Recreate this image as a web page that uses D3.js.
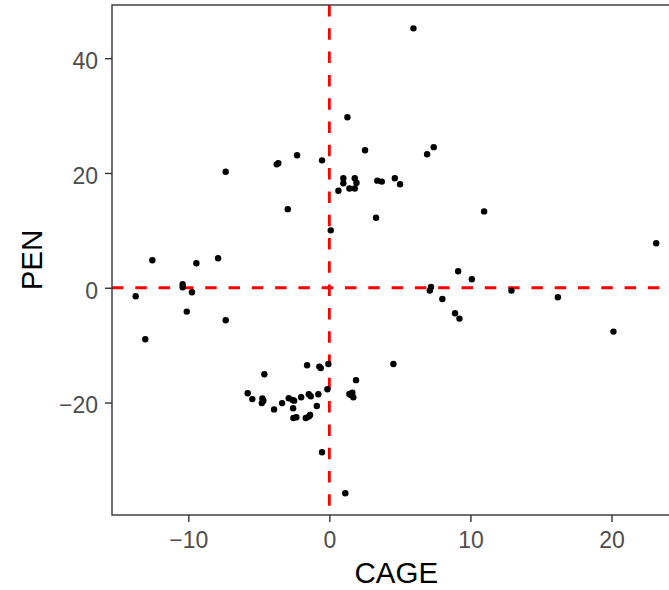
<!DOCTYPE html>
<html><head><meta charset="utf-8">
<script src="https://cdn.jsdelivr.net/npm/d3@7"></script>
<style>body{margin:0;background:#fff}svg{display:block}</style>
</head><body>
<script>
const cage = [1.28,2.53,-2.29,-0.52,-3.73,-3.62,-7.35,0.99,0.99,0.64,1.42,1.8,1.8,1.92,3.4,3.72,-2.95,3.31,0.1,-12.55,-7.89,-9.43,-10.4,-10.4,-9.74,-13.73,5.96,6.93,7.4,4.64,5.01,10.97,23.17,9.13,10.1,7.21,7.12,12.91,8.01,16.2,-10.11,-7.35,-13.05,-4.61,-1.58,-0.71,-0.61,-0.07,1.89,-5.79,-5.46,-4.75,-4.68,-4.79,-3.92,-3.35,-2.88,-2.6,-2.5,-2.57,-2.55,-2.34,-1.67,-1.46,-1.37,-2.0,-1.46,-1.32,-0.78,-0.89,-0.14,1.42,1.63,1.7,1.52,-0.52,1.13,8.91,9.22,20.14,4.54];
const pen = [29.7,23.95,23.08,22.2,21.5,21.7,20.2,19.08,18.2,16.9,17.3,17.3,19.08,18.3,18.66,18.5,13.7,12.2,10.0,4.8,5.14,4.27,0.6,0.09,-0.78,-1.48,45.2,23.26,24.5,19.08,18.03,13.3,7.75,2.87,1.48,0.14,-0.5,-0.5,-1.95,-1.66,-4.16,-5.66,-8.97,-15.07,-13.5,-13.74,-14.0,-13.3,-16.1,-18.38,-19.4,-19.3,-19.67,-20.1,-21.2,-20.1,-19.25,-19.55,-19.67,-21.0,-22.7,-22.56,-22.7,-22.45,-22.16,-19.08,-18.55,-18.9,-18.55,-20.6,-17.7,-18.5,-18.3,-19.1,-18.7,-28.66,-35.8,-4.45,-5.38,-7.64,-13.3];
const xTicks = [-10, 0, 10, 20];
const yTicks = [-20, 0, 20, 40];
const xDomain = [-15.41, 24.9];
const yDomain = [-39.6, 49.27];
const refX = 0, refY = 0;

const W = 669, H = 590;
const L = 112, R = 680.6, T = 5, B = 515;
const svg = d3.select("body").append("svg").attr("width", W).attr("height", H);
const x = d3.scaleLinear().domain(xDomain).range([L, R]);
const y = d3.scaleLinear().domain(yDomain).range([B, T]);
const fmt = d => (d < 0 ? "\u2212" + Math.abs(d) : "" + d);
const font = "'Liberation Sans', Arial, sans-serif";

// reference lines
svg.append("line").attr("x1", L).attr("x2", R).attr("y1", y(refY)).attr("y2", y(refY))
  .attr("stroke", "#ff0000").attr("stroke-width", 2.8).attr("stroke-dasharray", "11.5,11.8");
svg.append("line").attr("x1", x(refX)).attr("x2", x(refX)).attr("y1", T).attr("y2", B)
  .attr("stroke", "#ff0000").attr("stroke-width", 2.8).attr("stroke-dasharray", "11.5,11.8");

// points
svg.append("g").selectAll("circle").data(cage.map((c, i) => [c, pen[i]])).join("circle")
  .attr("cx", d => x(d[0])).attr("cy", d => y(d[1])).attr("r", 3.2).attr("fill", "#000");

// border
svg.append("rect").attr("x", L).attr("y", T).attr("width", R - L).attr("height", B - T)
  .attr("fill", "none").attr("stroke", "#333").attr("stroke-width", 1.4);

// axes
const xa = svg.append("g").attr("transform", `translate(0,${B})`)
  .call(d3.axisBottom(x).tickValues(xTicks).tickFormat(fmt).tickSize(7).tickPadding(10));
const ya = svg.append("g").attr("transform", `translate(${L},0)`)
  .call(d3.axisLeft(y).tickValues(yTicks).tickFormat(fmt).tickSize(7).tickPadding(7));
[xa, ya].forEach(a => {
  a.select(".domain").remove();
  a.selectAll(".tick line").attr("stroke", "#333").attr("stroke-width", 1.4);
  a.selectAll(".tick text").attr("fill", "#4d4d4d").style("font-family", font).style("font-size", "23px");
});
ya.selectAll(".tick text").attr("dy", "0.45em");

svg.append("text").attr("x", (L + R) / 2).attr("y", 583).attr("text-anchor", "middle")
  .style("font-family", font).style("font-size", "29.5px").attr("fill", "#000").text("CAGE");
svg.append("text").attr("transform", `translate(41.5,${(T + B) / 2}) rotate(-90)`).attr("text-anchor", "middle")
  .style("font-family", font).style("font-size", "29.5px").attr("fill", "#000").text("PEN");
</script>
</body></html>
